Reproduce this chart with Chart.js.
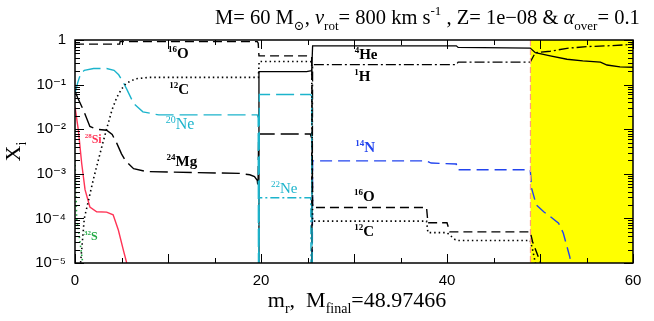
<!DOCTYPE html>
<html><head><meta charset="utf-8">
<script src="https://cdn.jsdelivr.net/npm/chart.js@4"></script>
<style>html,body{margin:0;padding:0;background:#fff;overflow:hidden}</style>
</head><body>
<canvas id="c" width="654" height="321"></canvas>
<script>
// ---------- data ----------
const M_FINAL = 48.97466;
const OFF = 1e-9; // below plotted range
const xTickVals = [0, 20, 40, 60];
const yTickVals = [1, 1e-1, 1e-2, 1e-3, 1e-4, 1e-5];
const yTickLabels = ['1', '10⁻¹', '10⁻²', '10⁻³', '10⁻⁴', '10⁻⁵'];

const m_O16 = [0, 4.8, 4.85, 19.6, 19.7, 19.78, 25.3, 25.45, 25.55, 37.8, 37.95, 40.0, 40.3, 48.95, 49.2, 49.6, 50.0, 50.4];
const X_O16 = [0.81, 0.81, 0.92, 0.92, 0.85, 0.44, 0.44, 0.42, 1.75e-4, 1.75e-4, 8e-5, 8e-5, 5e-5, 5e-5, 3e-5, 1.8e-5, 1.1e-5, 5e-6];

const m_C12 = [0.4, 0.6, 1.0, 1.5, 2.0, 2.5, 3.0, 3.5, 4.0, 4.5, 5.0, 5.5, 6.5, 8.0, 19.6, 19.72, 19.8, 25.3, 25.45, 25.55, 37.8, 37.95, 40.0, 40.9, 41.1, 48.95, 49.2, 49.5, 49.8];
const X_C12 = [1e-6, 1e-5, 1e-4, 2.8e-4, 7.9e-4, 2.0e-3, 5.0e-3, 0.012, 0.028, 0.052, 0.079, 0.107, 0.135, 0.145, 0.145, 0.145, 0.33, 0.33, 0.32, 8.7e-5, 8.7e-5, 4.8e-5, 4.8e-5, 3.3e-5, 3.2e-5, 3.2e-5, 2e-5, 1e-5, 3e-6];

const m_Ne20 = [0, 0.3, 0.6, 1.0, 2.0, 3.4, 4.2, 4.7, 5.2, 5.6, 6.3, 7.3, 9.0, 19.6, 19.7, 19.76, 19.82, 25.3, 25.45, 25.55];
const X_Ne20 = [0.063, 0.112, 0.174, 0.209, 0.229, 0.229, 0.209, 0.166, 0.112, 0.076, 0.038, 0.0245, 0.0209, 0.0209, 0.0178, OFF, 0.060, 0.060, 0.056, OFF];

const m_Mg24 = [0, 0.3, 0.9, 1.6, 2.3, 3.4, 4.0, 4.5, 5.0, 5.4, 6.3, 7.7, 12.7, 17.7, 18.8, 19.3, 19.6, 19.68, 19.75, 25.3, 25.45, 25.55];
const X_Mg24 = [0.071, 0.050, 0.027, 0.0115, 0.010, 0.0095, 0.0076, 0.0048, 0.0028, 0.0020, 0.0013, 0.00112, 0.00107, 0.00102, 0.00095, 0.00087, 0.00071, 0.0005, 0.0078, 0.0078, 0.0063, OFF];

const m_Si28 = [0, 0.36, 0.72, 1.08, 1.6, 2.33, 3.4, 4.1, 4.66, 5.2, 5.56, 5.9];
const X_Si28 = [0.0316, 0.0095, 0.0017, 4.4e-4, 1.8e-4, 1.41e-4, 1.38e-4, 1.2e-4, 5.5e-5, 1.95e-5, 1.0e-5, 4e-6];

const m_S32 = [0, 0.18, 0.46, 0.83, 1.0];
const X_S32 = [2e-3, 1e-4, 4e-5, 1e-5, 5e-6];

const m_Ne22 = [19.7, 19.78, 25.35, 25.45];
const X_Ne22 = [OFF, 2.9e-4, 2.9e-4, OFF];

const m_He4 = [19.7, 19.78, 24.9, 25.3, 25.45, 25.55, 41.0, 41.2, 48.95, 49.5, 51.1, 52.9, 54.6, 56.5, 57.2, 58.6, 60];
const X_He4 = [OFF, 0.195, 0.195, 0.204, 0.204, 0.74, 0.74, 0.68, 0.66, 0.52, 0.44, 0.37, 0.34, 0.32, 0.275, 0.25, 0.245];

const m_H1 = [25.45, 25.55, 41.0, 41.2, 48.95, 49.5, 51.1, 52.9, 55.0, 57.2, 59.7, 60];
const X_H1 = [OFF, 0.28, 0.28, 0.32, 0.32, 0.52, 0.56, 0.65, 0.71, 0.74, 0.79, 0.81];

const m_N14 = [25.45, 25.55, 37.8, 38.3, 41.0, 41.1, 48.95, 49.1, 49.6, 50.4, 51.1, 52.0, 52.5, 53.2, 53.6];
const X_N14 = [OFF, 1.95e-3, 1.95e-3, 1.74e-3, 1.66e-3, 1.23e-3, 1.23e-3, 4.7e-4, 2.0e-4, 1.41e-4, 1.1e-4, 7.8e-5, 4.7e-5, 1.38e-5, 5e-6];

// in-plot labels
const labelIso = ['16','12','20','28','24','32','22','4','1','14','16','12'];
const labelSym = ['O','C','Ne','Si','Mg','S','Ne','He','H','N','O','C'];
const labelM   = [11.1, 11.2, 11.3, 1.95, 11.5, 1.7, 22.5, 31.3, 30.9, 31.2, 31.1, 31.1];
const labelX   = [0.51, 0.079, 0.0132, 0.006, 0.00195, 4e-5, 4.8e-4, 0.49, 0.155, 0.004, 3.2e-4, 5.2e-5];

// ---------- styling ----------
const BLACK = '#000000', CYAN = '#1cb4cc', RED = '#ff3355', GREEN = '#22aa44', BLUE = '#2244ee';
const labelColor = [BLACK, BLACK, CYAN, RED, BLACK, GREEN, CYAN, BLACK, BLACK, BLUE, BLACK, BLACK];
const labelSize  = [15, 15, 16, 12, 15, 12, 15, 15, 15, 15, 15, 15];
const labelBold  = [true, true, false, true, true, true, false, true, true, true, true, true];

function pts(ms, xs) { return ms.map((m, i) => ({x: m, y: xs[i]})); }
function ds(ms, xs, color, dash, w) {
  return {data: pts(ms, xs), borderColor: color, borderWidth: w || 1.4, borderDash: dash,
          pointRadius: 0, fill: false, tension: 0};
}

const datasets = [
  ds(m_O16, X_O16, BLACK, [9, 5]),
  ds(m_C12, X_C12, BLACK, [1.5, 3], 1.6),
  ds(m_Ne20, X_Ne20, CYAN, [18, 6]),
  ds(m_Mg24, X_Mg24, BLACK, [18, 6]),
  ds(m_Si28, X_Si28, RED, [], 1.4),
  ds(m_S32, X_S32, GREEN, [1.5, 3], 1.6),
  ds(m_Ne22, X_Ne22, CYAN, [9, 3, 2, 3]),
  ds(m_He4, X_He4, BLACK, [], 1.3),
  ds(m_H1, X_H1, BLACK, [10, 3, 2, 3], 1.3),
  ds(m_N14, X_N14, BLUE, [12, 6]),
];

function drawRich(ctx, segs, x, y, size, align, family, weight) {
  const fontFor = s => `${s.italic ? 'italic ' : ''}${weight || ''} ${(s.sub || s.sup) ? Math.round(size * 0.62) : size}px ${family}`;
  let w = 0;
  segs.forEach(s => { ctx.font = fontFor(s); s._w = ctx.measureText(s.t).width; w += s._w; });
  let cx = align === 'center' ? x - w / 2 : align === 'right' ? x - w : x;
  ctx.textAlign = 'left'; ctx.textBaseline = 'alphabetic';
  segs.forEach(s => {
    ctx.font = fontFor(s);
    const dy = s.sub ? size * 0.28 : s.sup ? -size * 0.42 : 0;
    ctx.fillText(s.t, cx, y + dy); cx += s._w;
  });
  return w;
}

const decor = {
  id: 'decor',
  beforeDatasetsDraw(chart) {
    const {ctx, chartArea: a, scales: {x}} = chart;
    const xm = x.getPixelForValue(M_FINAL);
    ctx.save();
    ctx.fillStyle = '#ffff00';
    ctx.fillRect(xm, a.top, a.right - xm, a.bottom - a.top);
    ctx.restore();
  },
  afterDatasetsDraw(chart) {
    const {ctx, chartArea: a, scales: {x, y}} = chart;
    ctx.save();
    const xm = x.getPixelForValue(M_FINAL);
    ctx.strokeStyle = '#ff9a80'; ctx.lineWidth = 1.2; ctx.setLineDash([6, 3]);
    ctx.beginPath(); ctx.moveTo(xm, a.top); ctx.lineTo(xm, a.bottom); ctx.stroke();
    ctx.setLineDash([]);
    ctx.strokeStyle = '#000'; ctx.lineWidth = 1.5;
    ctx.strokeRect(a.left, a.top, a.right - a.left, a.bottom - a.top);
    ctx.lineWidth = 1;
    ctx.beginPath();
    for (let v = 0; v <= 60; v += 5) {
      const px = Math.round(x.getPixelForValue(v)) + 0.5;
      const L = v % 10 === 0 ? 9 : 5;
      ctx.moveTo(px, a.bottom); ctx.lineTo(px, a.bottom - L);
      ctx.moveTo(px, a.top); ctx.lineTo(px, a.top + L);
    }
    for (let e = -5; e <= 0; e++) {
      for (let k = 1; k <= 9; k++) {
        const v = k * Math.pow(10, e);
        if (v > 1.0001) break;
        const py = Math.round(y.getPixelForValue(v)) + 0.5;
        const L = k === 1 ? 9 : 5;
        ctx.moveTo(a.left, py); ctx.lineTo(a.left + L, py);
        ctx.moveTo(a.right, py); ctx.lineTo(a.right - L, py);
      }
    }
    ctx.stroke();
    for (let i = 0; i < labelSym.length; i++) {
      const px = x.getPixelForValue(labelM[i]);
      const py = y.getPixelForValue(labelX[i]);
      ctx.fillStyle = labelColor[i];
      drawRich(ctx, [{t: labelIso[i], sup: true}, {t: labelSym[i]}], px, py + labelSize[i] * 0.35,
               labelSize[i], 'center', '"Liberation Serif", serif', labelBold[i] ? 'bold' : '');
    }
    ctx.restore();
  },
  afterDraw(chart) {
    const {ctx, chartArea: a} = chart;
    ctx.save();
    ctx.fillStyle = '#000';
    const fam = '"Liberation Serif", "DejaVu Serif", serif';
    const title = [{t: 'M= 60 M'}, {t: '⊙', sub: true}, {t: ', '}, {t: 'v', italic: true}, {t: 'rot', sub: true},
                   {t: '= 800 km s'}, {t: '-1', sup: true}, {t: ' , Z= 1e−08 & '}, {t: 'α', italic: true},
                   {t: 'over', sub: true}, {t: '= 0.1'}];
    ctx.globalAlpha = 0;
    const w0 = drawRich(ctx, title, 0, 0, 18, 'left', fam);
    ctx.globalAlpha = 1;
    const size = 18 * 423 / w0;
    drawRich(ctx, title, 215, 24, size, 'left', fam);
    drawRich(ctx, [{t: 'm'}, {t: 'r', sub: true}, {t: ',  M'}, {t: 'final', sub: true}, {t: '=48.97466'}],
             (a.left + a.right) / 2 + 3, 307, 22, 'center', fam);
    ctx.translate(20, (a.top + a.bottom) / 2);
    ctx.rotate(-Math.PI / 2);
    drawRich(ctx, [{t: 'X'}, {t: 'i', sub: true}], 0, 0, 22, 'center', fam);
    ctx.restore();
  }
};

new Chart(document.getElementById('c'), {
  type: 'line',
  data: {datasets},
  plugins: [decor],
  options: {
    responsive: false, animation: false, devicePixelRatio: 1,
    layout: {padding: {left: 0, right: 21, top: 40, bottom: 0}},
    plugins: {legend: {display: false}, tooltip: {enabled: false}, title: {display: false}},
    scales: {
      x: {
        type: 'linear', min: 0, max: 60,
        afterBuildTicks: s => { s.ticks = xTickVals.map(v => ({value: v})); },
        afterFit: s => { s.height = 58; },
        grid: {display: false, drawTicks: false}, border: {display: false},
        ticks: {color: '#000', font: {family: '"Liberation Sans", "DejaVu Sans", sans-serif', size: 15}, padding: 9, maxRotation: 0}
      },
      y: {
        type: 'logarithmic', min: 1e-5, max: 1,
        afterBuildTicks: s => { s.ticks = yTickVals.map(v => ({value: v})); },
        afterFit: s => { s.width = 75; },
        grid: {display: false, drawTicks: false}, border: {display: false},
        ticks: {color: '#000', font: {family: '"Liberation Sans", "DejaVu Sans", sans-serif', size: 15}, padding: 9,
                callback: (v, i) => yTickLabels[i]}
      }
    }
  }
});
</script>
</body></html>
